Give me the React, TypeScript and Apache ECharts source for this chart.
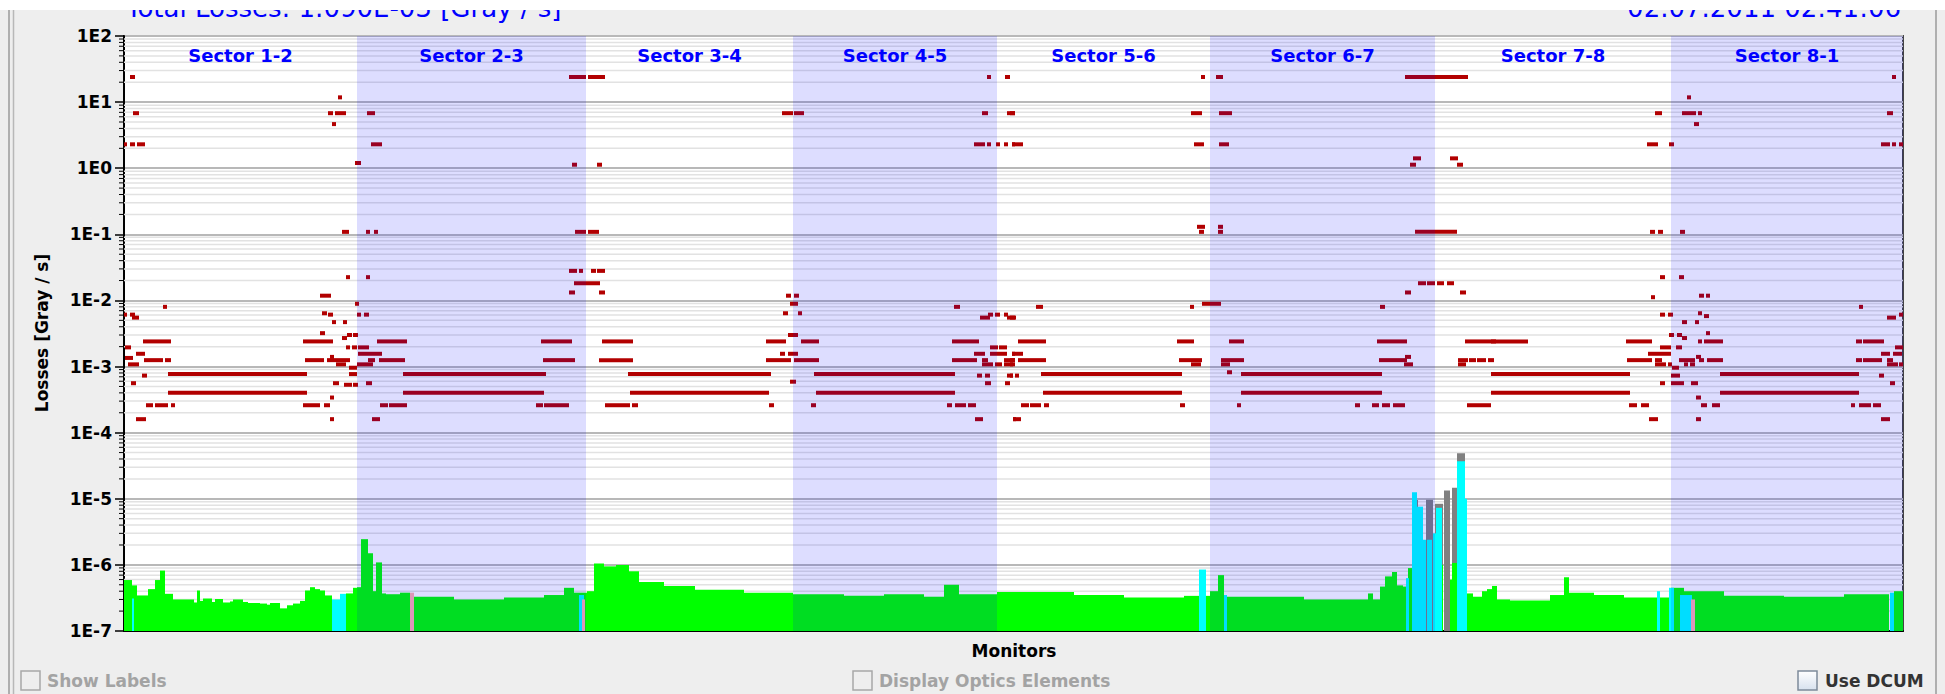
import React, { useEffect, useRef } from "react";
import * as echarts from "echarts";

const CHART_TITLE = "Total Losses: 1.090E-03 [Gray / s]";
const TIMESTAMP = "02.07.2011 02:41:06";
const Y_AXIS_NAME = "Losses [Gray / s]";
const X_AXIS_NAME = "Monitors";
const CHECKBOX_LABELS = ["Show Labels", "Display Optics Elements", "Use DCUM"];

const MONITOR_COUNT = 1779;
const Y_MIN = 1e-7;
const Y_MAX = 1e2;

const SECTOR_NAMES = ["Sector 1-2", "Sector 2-3", "Sector 3-4", "Sector 4-5", "Sector 5-6", "Sector 6-7", "Sector 7-8", "Sector 8-1"];
const SECTOR_BOUNDS = [0, 233, 462, 669, 873, 1086, 1311, 1547, 1779];

// threshold marks: [first monitor, last monitor, Gray/s]
const THRESHOLD_MARKS: number[][] = [
  // sector 1-2 / 2-3
  [6, 11, 24], [214, 218, 11.8],
  [9, 15, 6.8], [204, 209, 6.8], [211, 222, 6.8], [243, 251, 6.8], [208, 212, 4.65],
  [0, 3, 2.3], [6, 11, 2.3], [13, 21, 2.3], [247, 258, 2.3], [231, 237, 1.2],
  [218, 225, 0.109], [242, 246, 0.109], [250, 254, 0.109],
  [222, 226, 0.0225], [242, 246, 0.0225], [196, 207, 0.0118], [231, 235, 0.0089], [39, 43, 0.008],
  [0, 3, 0.0061], [6, 11, 0.0061], [198, 203, 0.0064], [204, 209, 0.0061], [233, 237, 0.0061], [240, 245, 0.0061],
  [8, 15, 0.0055], [208, 212, 0.0047], [219, 223, 0.0047], [196, 201, 0.0032], [223, 228, 0.003], [229, 234, 0.003], [218, 223, 0.0027],
  [19, 47, 0.0024], [179, 209, 0.0024], [253, 283, 0.0024], [417, 448, 0.0024],
  [1, 7, 0.00195], [222, 226, 0.00195], [228, 233, 0.00195], [234, 245, 0.00195],
  [12, 21, 0.00156], [206, 210, 0.0014], [234, 258, 0.00156], [1, 9, 0.00135],
  [20, 39, 0.00125], [41, 47, 0.00125], [181, 200, 0.00125], [203, 226, 0.00125], [244, 251, 0.00125], [255, 281, 0.00125], [419, 451, 0.00125],
  [4, 15, 0.00108], [212, 222, 0.00108], [233, 249, 0.00108], [225, 233, 0.00096],
  [44, 183, 0.00077], [225, 233, 0.00077], [279, 422, 0.00077], [18, 23, 0.00073],
  [7, 12, 0.00056], [209, 215, 0.00056], [242, 248, 0.00056], [220, 228, 0.00053], [229, 234, 0.00053],
  [44, 183, 0.0004], [279, 420, 0.0004], [206, 210, 0.00034],
  [22, 29, 0.00026], [31, 44, 0.00026], [47, 51, 0.00026], [179, 196, 0.00026], [200, 206, 0.00026], [256, 264, 0.00026], [265, 283, 0.00026], [412, 419, 0.00026], [420, 445, 0.00026],
  [12, 22, 0.00016], [206, 210, 0.00016], [248, 256, 0.00016],
  // sector 3-4 / 4-5
  [445, 462, 24], [464, 481, 24], [863, 867, 24], [881, 886, 24],
  [658, 669, 6.8], [670, 680, 6.8], [858, 864, 6.8], [883, 891, 6.8],
  [850, 861, 2.3], [863, 867, 2.3], [872, 876, 2.3], [880, 884, 2.3], [888, 891, 2.3],
  [448, 453, 1.13], [473, 478, 1.13], [451, 462, 0.109], [464, 475, 0.109],
  [445, 453, 0.028], [455, 459, 0.028], [467, 472, 0.028], [473, 481, 0.028], [450, 476, 0.0182],
  [445, 451, 0.0132], [475, 481, 0.0132], [662, 667, 0.0118], [670, 675, 0.0118], [666, 674, 0.0089], [830, 836, 0.008],
  [659, 664, 0.0064], [674, 678, 0.0064], [856, 866, 0.0055], [864, 869, 0.0061], [871, 876, 0.0061], [880, 884, 0.0061], [883, 891, 0.0055],
  [664, 674, 0.003], [478, 509, 0.0024], [642, 662, 0.0024], [677, 695, 0.0024], [828, 855, 0.0024],
  [866, 874, 0.00195], [875, 883, 0.00195],
  [656, 661, 0.00156], [664, 674, 0.00156], [850, 861, 0.00156], [866, 883, 0.00156], [888, 891, 0.00156],
  [475, 509, 0.00125], [642, 667, 0.00125], [670, 695, 0.00125], [828, 853, 0.00125], [858, 864, 0.00125], [880, 891, 0.00125],
  [858, 869, 0.00108], [871, 878, 0.00108], [880, 889, 0.00108],
  [504, 647, 0.00077], [690, 831, 0.00077], [853, 858, 0.00073], [861, 866, 0.00073], [883, 889, 0.00073],
  [666, 672, 0.00059], [861, 867, 0.00056], [881, 886, 0.00056],
  [506, 645, 0.0004], [692, 831, 0.0004],
  [481, 506, 0.00026], [508, 514, 0.00026], [645, 650, 0.00026], [687, 692, 0.00026], [823, 828, 0.00026], [831, 842, 0.00026], [844, 852, 0.00026],
  [851, 859, 0.00016], [889, 891, 0.00016],
  // sector 5-6 / 6-7
  [1077, 1081, 24], [1092, 1099, 24], [1281, 1344, 24],
  [886, 891, 6.8], [1067, 1078, 6.8], [1095, 1108, 6.8],
  [888, 899, 2.3], [1070, 1080, 2.3], [1095, 1105, 2.3],
  [1289, 1297, 1.41], [1326, 1334, 1.41], [1286, 1292, 1.13], [1333, 1339, 1.13],
  [1073, 1081, 0.13], [1094, 1099, 0.13], [1075, 1080, 0.109], [1094, 1099, 0.109], [1291, 1333, 0.109],
  [1294, 1302, 0.0182], [1303, 1311, 0.0182], [1313, 1320, 0.0182], [1323, 1330, 0.0182],
  [1281, 1287, 0.0132], [1336, 1342, 0.0132], [1078, 1097, 0.0089],
  [912, 919, 0.008], [1066, 1070, 0.008], [1256, 1261, 0.008], [886, 892, 0.0055],
  [894, 922, 0.0024], [1053, 1070, 0.0024], [1105, 1120, 0.0024], [1253, 1283, 0.0024], [1341, 1372, 0.0024],
  [888, 899, 0.00156], [1281, 1287, 0.0014],
  [886, 891, 0.00125], [894, 922, 0.00125], [1055, 1078, 0.00125], [1097, 1120, 0.00125], [1255, 1283, 0.00125],
  [1334, 1344, 0.00125], [1345, 1352, 0.00125], [1353, 1362, 0.00125], [1364, 1370, 0.00125],
  [886, 891, 0.00108], [1067, 1077, 0.00108], [1097, 1106, 0.00108], [1280, 1289, 0.00108], [1334, 1342, 0.00108],
  [1103, 1108, 0.00082], [886, 889, 0.00073], [891, 895, 0.00073],
  [917, 1058, 0.00077], [1117, 1258, 0.00077], [919, 1058, 0.0004], [1117, 1258, 0.0004],
  [897, 905, 0.00026], [906, 917, 0.00026], [920, 925, 0.00026], [1056, 1061, 0.00026], [1113, 1117, 0.00026],
  [1231, 1236, 0.00026], [1248, 1255, 0.00026], [1258, 1266, 0.00026], [1269, 1281, 0.00026],
  [889, 897, 0.00016],
  // sector 7-8 / 8-1
  [1768, 1772, 24], [1563, 1567, 11.8],
  [1531, 1538, 6.8], [1558, 1572, 6.8], [1574, 1578, 6.8], [1763, 1769, 6.8], [1570, 1575, 4.65],
  [1523, 1534, 2.3], [1545, 1550, 2.3], [1757, 1766, 2.3], [1768, 1772, 2.3], [1775, 1779, 2.3],
  [1526, 1531, 0.109], [1534, 1539, 0.109], [1556, 1561, 0.109],
  [1536, 1541, 0.0225], [1555, 1560, 0.0225],
  [1575, 1580, 0.0118], [1582, 1586, 0.0118], [1527, 1531, 0.0112], [1735, 1739, 0.008],
  [1536, 1541, 0.0061], [1544, 1549, 0.0061], [1580, 1585, 0.0058], [1763, 1772, 0.0055], [1775, 1779, 0.0061], [1574, 1578, 0.0064],
  [1558, 1563, 0.0047], [1571, 1575, 0.0047], [1582, 1586, 0.0032], [1545, 1550, 0.003], [1553, 1558, 0.003], [1558, 1563, 0.0027],
  [1367, 1404, 0.0024], [1502, 1528, 0.0024], [1574, 1578, 0.0024], [1580, 1599, 0.0024], [1732, 1738, 0.0024], [1739, 1760, 0.0024],
  [1536, 1547, 0.00195], [1552, 1558, 0.00195], [1771, 1779, 0.00195],
  [1524, 1539, 0.00156], [1539, 1547, 0.00156], [1757, 1766, 0.00156], [1769, 1778, 0.00156], [1572, 1577, 0.0014],
  [1503, 1528, 0.00125], [1531, 1538, 0.00125], [1555, 1571, 0.00125], [1575, 1580, 0.00125], [1583, 1599, 0.00125],
  [1732, 1738, 0.00125], [1739, 1758, 0.00125], [1763, 1769, 0.00125],
  [1531, 1542, 0.00108], [1544, 1548, 0.00108], [1560, 1564, 0.00108], [1566, 1571, 0.00108], [1763, 1774, 0.00108], [1775, 1779, 0.00108],
  [1548, 1555, 0.00096], [1547, 1556, 0.00073], [1755, 1760, 0.00073],
  [1367, 1506, 0.00077], [1596, 1735, 0.00077], [1367, 1506, 0.0004], [1596, 1735, 0.0004],
  [1536, 1541, 0.00056], [1547, 1560, 0.00056], [1567, 1574, 0.00056], [1766, 1771, 0.00056], [1572, 1577, 0.00034],
  [1343, 1367, 0.00026], [1505, 1513, 0.00026], [1517, 1525, 0.00026], [1577, 1583, 0.00026], [1588, 1596, 0.00026],
  [1727, 1731, 0.00026], [1735, 1747, 0.00026], [1749, 1757, 0.00026],
  [1525, 1534, 0.00016], [1572, 1577, 0.00016], [1757, 1766, 0.00016],
];

// losses per monitor run: [first monitor, last monitor, Gray/s]
const GRAY_BARS: number[][] = [
  [1289, 1294, 9.6e-6], [1293, 1299, 5.5e-6], [1302, 1309, 9.7e-6], [1311, 1319, 8.4e-6],
  [1320, 1326, 1.33e-5], [1328, 1333, 1.47e-5], [1333, 1341, 4.9e-5],
];
const GREEN_BARS: number[][] = [
  [0, 8, 5.9e-7], [8, 13, 4.9e-7], [13, 24, 3.45e-7], [24, 31, 4.3e-7], [31, 36, 5.9e-7], [36, 41, 8.2e-7], [41, 49, 3.65e-7],
  [49, 70, 3e-7], [70, 73, 2.7e-7], [73, 76, 4.1e-7], [76, 79, 2.85e-7], [79, 88, 3.1e-7], [88, 91, 2.75e-7], [91, 99, 3.05e-7],
  [99, 106, 2.7e-7], [106, 109, 2.8e-7], [109, 119, 3e-7], [119, 124, 2.75e-7], [124, 136, 2.65e-7], [136, 143, 2.6e-7],
  [143, 146, 2.5e-7], [146, 156, 2.65e-7], [156, 163, 2.2e-7], [163, 169, 2.45e-7], [169, 176, 2.6e-7], [176, 181, 2.85e-7],
  [181, 186, 4.1e-7], [186, 191, 4.6e-7], [191, 196, 4.3e-7], [196, 201, 4.1e-7], [201, 208, 3.45e-7], [222, 229, 3.7e-7], [229, 233, 4.5e-7],
  [233, 237, 4.6e-7], [237, 244, 2.45e-6], [244, 249, 1.5e-6], [249, 252, 4e-7], [252, 258, 1.09e-6], [258, 262, 3.7e-7],
  [262, 276, 3.6e-7], [276, 286, 3.8e-7], [290, 330, 3.3e-7], [330, 380, 3e-7], [380, 420, 3.2e-7], [420, 440, 3.5e-7],
  [440, 450, 4.5e-7], [450, 463, 3.8e-7],
  [463, 470, 4e-7], [470, 480, 1.05e-6], [480, 492, 9.5e-7], [492, 505, 1e-6], [505, 515, 8e-7], [515, 540, 5.5e-7],
  [540, 571, 4.8e-7], [571, 620, 4.2e-7], [620, 669, 3.8e-7],
  [669, 720, 3.6e-7], [720, 760, 3.4e-7], [760, 800, 3.6e-7], [800, 820, 3.3e-7], [820, 835, 5e-7], [835, 873, 3.6e-7],
  [873, 950, 3.9e-7], [950, 1000, 3.5e-7], [1000, 1060, 3.2e-7], [1060, 1086, 3.4e-7],
  [1086, 1094, 4e-7], [1094, 1100, 7e-7], [1100, 1180, 3.3e-7], [1180, 1244, 3e-7], [1244, 1249, 3.7e-7], [1249, 1256, 3e-7],
  [1256, 1261, 4.7e-7], [1261, 1268, 6.7e-7], [1268, 1273, 7.8e-7], [1273, 1279, 4.9e-7], [1279, 1282, 4.7e-7], [1284, 1288, 8.95e-7],
  [1316, 1319, 1e-6], [1326, 1329, 6e-7], [1328, 1333, 1.07e-6],
  [1343, 1349, 3.7e-7], [1349, 1358, 3.3e-7], [1358, 1363, 4e-7], [1363, 1368, 4.3e-7], [1368, 1373, 4.8e-7], [1373, 1386, 3e-7],
  [1386, 1426, 2.9e-7], [1426, 1440, 3.5e-7], [1440, 1445, 6.5e-7], [1445, 1470, 3.8e-7], [1470, 1500, 3.5e-7], [1500, 1547, 3.2e-7],
  [1547, 1560, 4.5e-7], [1560, 1600, 4e-7], [1600, 1660, 3.4e-7], [1660, 1720, 3.3e-7], [1720, 1765, 3.6e-7], [1770, 1779, 4e-7],
];
const CYAN_BARS: number[][] = [
  [8, 10, 3.1e-7], [208, 216, 3e-7], [216, 222, 3.65e-7], [455, 460, 3.5e-7], [1075, 1082, 8.5e-7], [1100, 1103, 3.5e-7],
  [1282, 1285, 6.3e-7], [1288, 1293, 1.26e-5], [1293, 1299, 7.6e-6], [1299, 1302, 2.4e-6], [1303, 1308, 2.4e-6],
  [1309, 1312, 3e-6], [1312, 1318, 7.3e-6], [1333, 1341, 3.7e-5], [1341, 1343, 1e-5],
  [1533, 1536, 4e-7], [1545, 1550, 4.5e-7], [1556, 1568, 3.5e-7], [1766, 1770, 3.8e-7],
];
const PINK_BARS: number[][] = [[286, 290, 3.8e-7], [458, 461, 3e-7], [1567, 1571, 3e-7]];

const MINOR_VALUES: number[] = [];
for (let e = -7; e < 2; e++) for (let k = 2; k <= 9; k++) MINOR_VALUES.push(k * Math.pow(10, e));

const FONT = '"DejaVu Sans", Verdana, sans-serif';

function barSeries(name: string, data: number[][], color: string, z: number) {
  return {
    type: "custom", name, z, data, encode: { x: [0, 1], y: 2 },
    renderItem: (params: any, api: any) => {
      const a = api.coord([api.value(0), api.value(2)]);
      const b = api.coord([api.value(1), Y_MIN]);
      return { type: "rect", shape: { x: a[0], y: a[1], width: Math.max(b[0] - a[0], 1), height: b[1] - a[1] }, style: { fill: color } };
    },
  };
}

function txt(text: string, x: number, y: number, font: string, fill: string, align: string, z = 50) {
  return { type: "text", z, style: { text, x, y, font, fill, align, verticalAlign: "middle", textAlign: align, textVerticalAlign: "middle" } };
}

export default function App() {
  const ref = useRef<HTMLDivElement>(null);
  useEffect(() => {
    document.body.style.margin = "0";
    const chart = echarts.init(ref.current!, null, { renderer: "svg" });
    const grid = { left: 124, right: 42, top: 36, bottom: 63 };
    const option: any = {
      animation: false,
      backgroundColor: "#eeeeee",
      grid: { ...grid, show: true, backgroundColor: "#ffffff", borderColor: "#444", borderWidth: 2 },
      xAxis: {
        type: "value", min: 0, max: MONITOR_COUNT,
        axisLine: { show: true, onZero: false, lineStyle: { color: "#000", width: 2 } },
        axisTick: { show: false }, axisLabel: { show: false }, splitLine: { show: false },
      },
      yAxis: {
        type: "log", logBase: 10, min: Y_MIN, max: Y_MAX, splitNumber: 9,
        axisLine: { show: true, lineStyle: { color: "#000", width: 2 } },
        axisTick: { show: true, inside: false, length: 9, lineStyle: { color: "#000", width: 1.5 } },
        axisLabel: {
          margin: 12, color: "#000", fontSize: 17, fontWeight: "bold", fontFamily: FONT,
          formatter: (v: number) => "1E" + Math.round(Math.log10(v)),
        },
        splitLine: { show: true, lineStyle: { color: "#b8b8b8", width: 2 } },
      },
      series: [
        {
          type: "custom", name: "minor", z: 1, silent: true,
          data: MINOR_VALUES.map((v) => [0, v]), encode: { x: 0, y: 1 },
          renderItem: (params: any, api: any) => {
            const cs = params.coordSys;
            const p = api.coord([0, api.value(1)]);
            return {
              type: "group", children: [
                { type: "line", shape: { x1: cs.x, y1: p[1], x2: cs.x + cs.width, y2: p[1] }, style: { stroke: "#e2e2e2", lineWidth: 1.5 } },
                { type: "line", shape: { x1: cs.x - 5, y1: p[1], x2: cs.x, y2: p[1] }, style: { stroke: "#000", lineWidth: 1 } },
              ],
            };
          },
        },
        barSeries("gray", GRAY_BARS, "#808080", 2),
        barSeries("green", GREEN_BARS, "#00ff00", 3),
        barSeries("cyan", CYAN_BARS, "#00ffff", 4),
        barSeries("pink", PINK_BARS, "#ffafaf", 5),
        {
          type: "custom", name: "thresholds", z: 6, data: THRESHOLD_MARKS, encode: { x: [0, 1], y: 2 },
          renderItem: (params: any, api: any) => {
            const a = api.coord([api.value(0), api.value(2)]);
            const b = api.coord([api.value(1), api.value(2)]);
            return { type: "rect", shape: { x: a[0], y: a[1] - 2, width: Math.max(b[0] - a[0], 3), height: 4 }, style: { fill: "#b20000" } };
          },
        },
        {
          type: "custom", name: "sectors", z: 7, silent: true,
          data: SECTOR_NAMES.map((n, i) => [SECTOR_BOUNDS[i], SECTOR_BOUNDS[i + 1], i]),
          encode: { x: [0, 1] },
          renderItem: (params: any, api: any) => {
            const cs = params.coordSys;
            const i = api.value(2);
            const a = api.coord([api.value(0), Y_MAX]);
            const b = api.coord([api.value(1), Y_MAX]);
            const children: any[] = [];
            if (i % 2 === 1) {
              children.push({ type: "rect", shape: { x: a[0], y: cs.y, width: b[0] - a[0], height: cs.height }, style: { fill: "rgba(0,0,255,0.135)" } });
            }
            children.push({
              type: "text",
              style: {
                text: SECTOR_NAMES[i], x: (a[0] + b[0]) / 2, y: cs.y + 19,
                font: "bold 18px " + FONT, fill: "#0000ff",
                align: "center", verticalAlign: "middle", textAlign: "center", textVerticalAlign: "middle",
              },
            });
            return { type: "group", children };
          },
        },
      ],
      graphic: [
        txt(CHART_TITLE, 126, 8, "26px " + FONT, "#0000ff", "left"),
        txt(TIMESTAMP, 1901, 8, "26px " + FONT, "#0000ff", "right"),
        { type: "rect", z: 100, shape: { x: 0, y: 0, width: 1945, height: 10 }, style: { fill: "#ffffff" } },
        { type: "line", z: 60, shape: { x1: 9, y1: 10, x2: 9, y2: 694 }, style: { stroke: "#9a9a9a", lineWidth: 1.5 } },
        { type: "line", z: 60, shape: { x1: 13.5, y1: 10, x2: 13.5, y2: 694 }, style: { stroke: "#b8b8b8", lineWidth: 1.5 } },
        { type: "line", z: 60, shape: { x1: 1936, y1: 10, x2: 1936, y2: 694 }, style: { stroke: "#9a9a9a", lineWidth: 1.5 } },
        { type: "text", z: 50, x: 42, y: 333, rotation: Math.PI / 2, style: { text: Y_AXIS_NAME, x: 0, y: 0, font: "bold 17px " + FONT, fill: "#000", align: "center", verticalAlign: "middle", textAlign: "center", textVerticalAlign: "middle" } },
        txt(X_AXIS_NAME, 1014, 651, "bold 17px " + FONT, "#000", "center"),
        { type: "rect", z: 50, shape: { x: 21, y: 671, width: 19, height: 19 }, style: { fill: "#eeeeee", stroke: "#a8a8a8", lineWidth: 1.5 } },
        txt(CHECKBOX_LABELS[0], 47, 681, "bold 17px " + FONT, "#a3a3a3", "left"),
        { type: "rect", z: 50, shape: { x: 853, y: 671, width: 19, height: 19 }, style: { fill: "#eeeeee", stroke: "#a8a8a8", lineWidth: 1.5 } },
        txt(CHECKBOX_LABELS[1], 879, 681, "bold 17px " + FONT, "#a3a3a3", "left"),
        {
          type: "rect", z: 50, shape: { x: 1798, y: 671, width: 19, height: 19 },
          style: { fill: new echarts.graphic.LinearGradient(0, 0, 0, 1, [{ offset: 0, color: "#ffffff" }, { offset: 1, color: "#d7e1ee" }]), stroke: "#7d8b9b", lineWidth: 1.5 },
        },
        txt(CHECKBOX_LABELS[2], 1825, 681, "bold 17px " + FONT, "#333333", "left"),
      ],
    };
    chart.setOption(option);
    return () => chart.dispose();
  }, []);
  return <div ref={ref} style={{ position: "fixed", left: 0, top: 0, width: 1945, height: 694 }} />;
}
